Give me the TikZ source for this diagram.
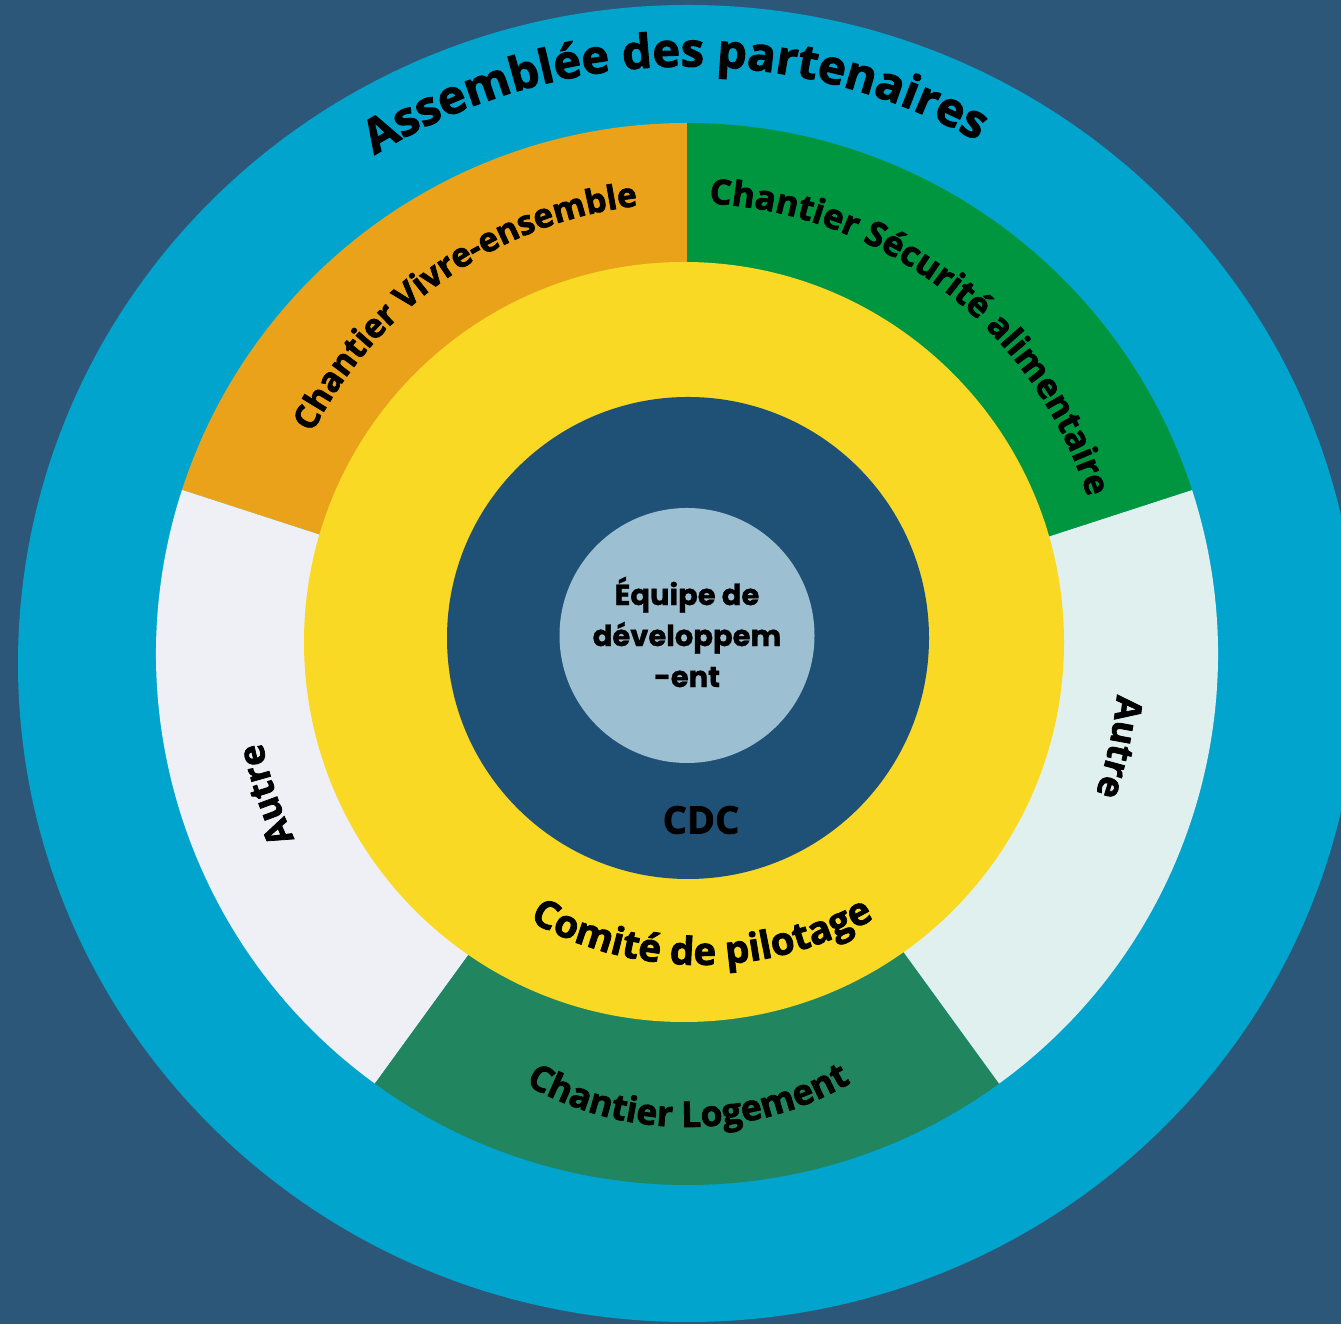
\documentclass[tikz,border=0pt]{standalone}
\usepackage{fontspec}
\setmainfont{Open Sans}
\newfontfamily\heavy{Open Sans}[BoldFeatures={FakeBold=2}]
\newfontfamily\poppins{Poppins}[BoldFeatures={FakeBold=1}]
\usetikzlibrary{decorations.text}
\definecolor{bgc}{HTML}{2D5779}
\definecolor{ringblue}{HTML}{00A4CC}
\definecolor{segorange}{HTML}{E9A21A}
\definecolor{seggreen}{HTML}{00963F}
\definecolor{segwhite}{HTML}{EFF0F5}
\definecolor{segdkgreen}{HTML}{218560}
\definecolor{segmint}{HTML}{DFF0EF}
\definecolor{yellowc}{HTML}{F9D923}
\definecolor{cdcblue}{HTML}{1F5075}
\definecolor{teamblue}{HTML}{9CC0D2}
\tikzset{
  arclabel/.style={decorate, decoration={text along path, text align={center}, text color=black, text={#1}}},
  sector/.style={fill=#1, draw=none},
}
\begin{document}
\begin{tikzpicture}[x=1pt,y=1pt]
\useasboundingbox (0,0) rectangle (1341,1324);
\fill[bgc] (0,0) rectangle (1341,1324);
% centres
\coordinate (O1) at (688,660.5);
\coordinate (S) at (687,670);
\coordinate (Y) at (684,682);
\coordinate (C) at (688,686);
\coordinate (L) at (687,688.5);
\coordinate (Ttop) at (687,701);
\coordinate (Tlog) at (687,523);
\coordinate (Tcom) at (700,709);
% outer ring
\fill[ringblue] (O1) ellipse[x radius=670, y radius=658.5];
% sectors
\fill[sector=segorange] (S) -- ++(90:531) arc[start angle=90, end angle=162, radius=531] -- cycle;
\fill[sector=segwhite] (S) -- ++(162:531) arc[start angle=162, end angle=234, radius=531] -- cycle;
\fill[sector=segdkgreen] (S) -- ++(234:531) arc[start angle=234, end angle=306, radius=531] -- cycle;
\fill[sector=segmint] (S) -- ++(306:531) arc[start angle=306, end angle=378, radius=531] -- cycle;
\fill[sector=seggreen] (S) -- ++(18:531) arc[start angle=18, end angle=90, radius=531] -- cycle;
% inner circles
\fill[yellowc] (Y) circle[radius=380];
\fill[cdcblue] (C) circle[radius=241];
\fill[teamblue] (L) circle[radius=127.5];
% curved labels
\path[arclabel={|\heavy\fontsize{47}{47}\selectfont\bfseries|Assemblée des partenaires}]
  (O1) ++(135:597) arc[start angle=135, end angle=47.7, radius=597];
\path[arclabel={|\heavy\fontsize{33.5}{33.5}\selectfont\bfseries|Chantier Vivre-ensemble}]
  (Ttop) ++(165:420) arc[start angle=165, end angle=84.8, radius=420];
\path[arclabel={|\heavy\fontsize{34.5}{34.5}\selectfont\bfseries|Chantier Sécurité alimentaire}]
  (Ttop) ++(100:420) arc[start angle=100, end angle=4.4, radius=420];
\path[arclabel={|\heavy\fontsize{36}{36}\selectfont\bfseries|Autre}]
  (S) ++(220:434) arc[start angle=220, end angle=177, radius=434];
\path[arclabel={|\heavy\fontsize{36}{36}\selectfont\bfseries|Autre}]
  (S) ++(10:432) arc[start angle=10, end angle=-34.3, radius=432];
\path[arclabel={|\heavy\fontsize{35.5}{35.5}\selectfont\bfseries|Chantier Logement}]
  (Tlog) ++(230:326) arc[start angle=230, end angle=310.5, radius=326];
\path[arclabel={|\heavy\fontsize{38.5}{38.5}\selectfont\bfseries|Comité de pilotage}]
  (Tcom) ++(230:350) arc[start angle=230, end angle=310.7, radius=350];
% centre labels
\node[font=\poppins\bfseries\fontsize{29}{41}\selectfont, align=center, inner sep=0pt] (team) at (687,692) {Équipe de\\développem\\-ent};
\node[font=\heavy\bfseries\fontsize{38}{38}\selectfont, inner sep=0pt] (cdc) at (701,504) {CDC};
\end{tikzpicture}
\end{document}
